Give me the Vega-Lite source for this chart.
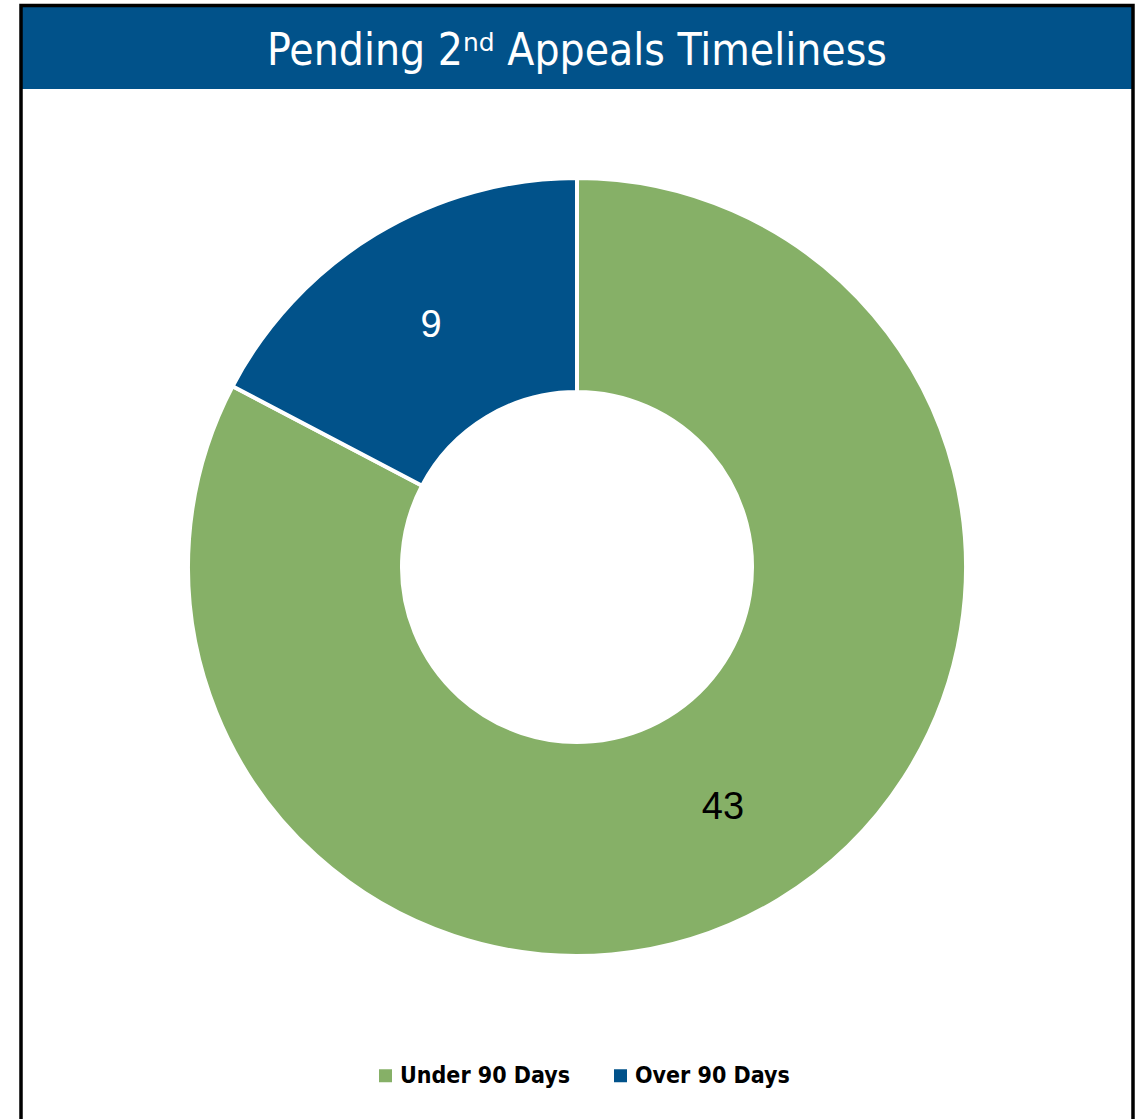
{
  "$schema": "https://vega.github.io/schema/vega-lite/v6.json",
  "width": 1112,
  "height": 1104,
  "autosize": "none",
  "padding": {"left": 21, "top": 15, "right": 9, "bottom": 0},
  "background": "white",
  "config": {"view": {"stroke": null}},
  "layer": [
    {
      "data": {"values": [{"title": "Pending 2ⁿᵈ Appeals Timeliness"}]},
      "layer": [
        {
          "mark": {"type": "rect", "x": 0, "x2": "width", "y": -8, "y2": 74, "fill": "#01528A"},
          "encoding": {}
        },
        {
          "mark": {"type": "text", "y": 50, "baseline": "alphabetic", "align": "center", "font": "'DejaVu Sans Condensed', 'DejaVu Sans', sans-serif", "fontSize": 44, "color": "white"},
          "encoding": {"text": {"field": "title", "type": "nominal"}}
        }
      ]
    },
    {
      "data": {"values": [
        {"category": "Under 90 Days", "count": 43},
        {"category": "Over 90 Days", "count": 9}
      ]},
      "encoding": {
        "theta": {"field": "count", "type": "quantitative", "stack": true},
        "order": {"field": "count", "type": "quantitative", "sort": "descending"}
      },
      "layer": [
        {
          "mark": {"type": "arc", "outerRadius": 389, "innerRadius": 175, "stroke": "white", "strokeWidth": 4},
          "encoding": {
            "color": {
              "field": "category",
              "type": "nominal",
              "scale": {"domain": ["Under 90 Days", "Over 90 Days"], "range": ["#86B067", "#01528A"]},
              "legend": {
                "orient": "none",
                "legendX": 353,
                "legendY": 1049,
                "direction": "horizontal",
                "title": null,
                "symbolType": "square",
                "symbolSize": 169,
                "symbolStrokeWidth": 0,
                "labelFont": "'DejaVu Sans Condensed', 'DejaVu Sans', sans-serif",
                "labelFontWeight": "bold",
                "labelFontSize": 23,
                "labelColor": "black",
                "labelOffset": 3,
                "labelLimit": 400,
                "columnPadding": 38
              }
            }
          }
        },
        {
          "mark": {"type": "text", "radius": 282, "font": "Liberation Sans", "fontSize": 38, "baseline": "middle", "align": "center"},
          "encoding": {
            "text": {"field": "count", "type": "quantitative"},
            "detail": {"field": "category", "type": "nominal"},
            "color": {"condition": {"test": "datum.category === 'Over 90 Days'", "value": "white"}, "value": "black"}
          }
        }
      ]
    },
    {
      "data": {"values": [{}]},
      "mark": {"type": "rect", "x": 0, "x2": "width", "y": -9.5, "y2": {"expr": "height + 30"}, "fill": "transparent", "stroke": "black", "strokeWidth": 3.5},
      "encoding": {}
    }
  ]
}
